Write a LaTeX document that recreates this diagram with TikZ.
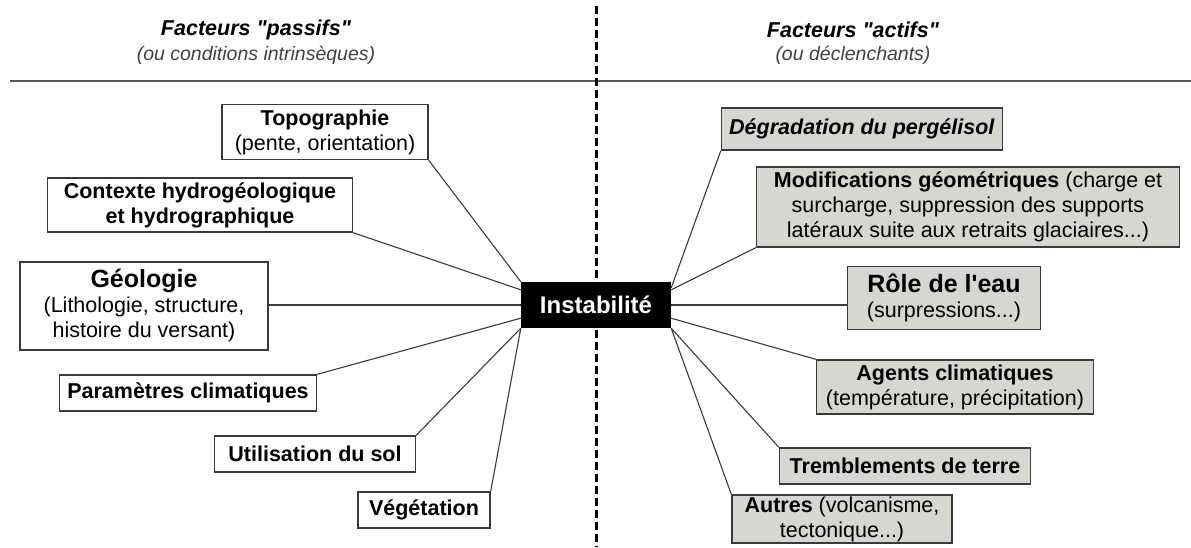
\documentclass[tikz,border=0pt]{standalone}
\usepackage{fontspec}
\setmainfont{Liberation Sans}
\newfontfamily\arial{Liberation Sans}
\usepackage{xcolor}
\usepackage{tikz}
\usetikzlibrary{calc}

\definecolor{fondactif}{RGB}{216,214,209}
\definecolor{trait}{RGB}{58,58,58}

\tikzset{
  passif/.style={draw=trait, line width=1.4pt, fill=white, align=center, inner sep=1pt,
    font=\arial\fontsize{21.5}{25}\selectfont},
  actif/.style={passif, fill=fondactif},
  lien/.style={draw=trait, line width=1.1pt},
  titre/.style={font=\arial\fontsize{21.5}{24}\selectfont\bfseries\itshape},
  soustitre/.style={font=\arial\fontsize{19.5}{22}\selectfont\itshape, text=black!75}
}

\begin{document}
\begin{tikzpicture}[x=1pt,y=-1pt]
\useasboundingbox (0,0) rectangle (1191,547);

% en-tetes
\node[titre] (tpassif) at (256,30) {Facteurs "passifs"};
\node[soustitre] (spassif) at (256,55) {(ou conditions intrinsèques)};
\node[titre] (tactif) at (853,30) {Facteurs "actifs"};
\node[soustitre] (sactif) at (853,55) {(ou déclenchants)};

\draw[black!65, line width=1.5pt] (10,81) -- (1191,81);
\draw[line width=3pt, dash pattern=on 8pt off 4pt] (596,6) -- (596,547);

% facteurs passifs
\node[passif, minimum width=206pt, minimum height=55pt] (topo) at (325,132)
  {\textbf{Topographie}\\(pente, orientation)};
\node[passif, minimum width=305pt, minimum height=54pt] (hydro) at (200,205)
  {\textbf{Contexte hydrogéologique}\\\textbf{et hydrographique}};
\node[passif, minimum width=248pt, minimum height=88pt] (geol) at (144,306)
  {{\fontsize{25}{28}\selectfont\textbf{Géologie}}\\(Lithologie, structure,\\histoire du versant)};
\node[passif, minimum width=257pt, minimum height=36pt] (clim) at (188,393)
  {\textbf{Paramètres climatiques}};
\node[passif, minimum width=201pt, minimum height=36pt] (sol) at (315,454)
  {\textbf{Utilisation du sol}};
\node[passif, minimum width=132pt, minimum height=36pt] (veg) at (424,510)
  {\textbf{Végétation}};

% centre
\node[fill=black, text=white, minimum width=150pt, minimum height=46pt,
  font=\arial\fontsize{24}{28}\selectfont\bfseries] (inst) at (596,305) {Instabilité};

% facteurs actifs
\node[actif, minimum width=281pt, minimum height=42pt] (perg) at (862,129)
  {\textbf{\textit{Dégradation du pergélisol}}};
\node[actif, minimum width=423pt, minimum height=80pt] (geom) at (968,207)
  {\textbf{Modifications géométriques} (charge et\\surcharge, suppression des supports\\latéraux suite aux retraits glaciaires...)};
\node[actif, minimum width=193pt, minimum height=63pt] (eau) at (944,298)
  {{\fontsize{25}{28}\selectfont\textbf{Rôle de l'eau}}\\(surpressions...)};
\node[actif, minimum width=277pt, minimum height=54pt] (agent) at (955,387)
  {\textbf{Agents climatiques}\\(température, précipitation)};
\node[actif, minimum width=251pt, minimum height=36pt] (seisme) at (905,466)
  {\textbf{Tremblements de terre}};
\node[actif, minimum width=220pt, minimum height=48pt] (autre) at (842,519)
  {\textbf{Autres} (volcanisme,\\tectonique...)};

% liens
\draw[lien] (topo.south east) -- (inst.north west);
\draw[lien] (hydro.south east) -- ([yshift=-8pt]inst.north west);
\draw[lien] (geol.east |- inst.west) -- (inst.west);
\draw[lien] (clim.north east) -- ([yshift=10pt]inst.south west);
\draw[lien] (sol.north east) -- (inst.south west);
\draw[lien] (veg.north east) -- (inst.south west);
\draw[lien] (perg.south west) -- ([yshift=-6pt]inst.north east);
\draw[lien] (geom.south west) -- ([yshift=-8pt]inst.north east);
\draw[lien] (inst.east) -- (inst.east -| eau.west);
\draw[lien] (agent.north west) -- ([yshift=10pt]inst.south east);
\draw[lien] (seisme.north west) -- (inst.south east);
\draw[lien] (autre.north west) -- (inst.south east);
\end{tikzpicture}
\end{document}
